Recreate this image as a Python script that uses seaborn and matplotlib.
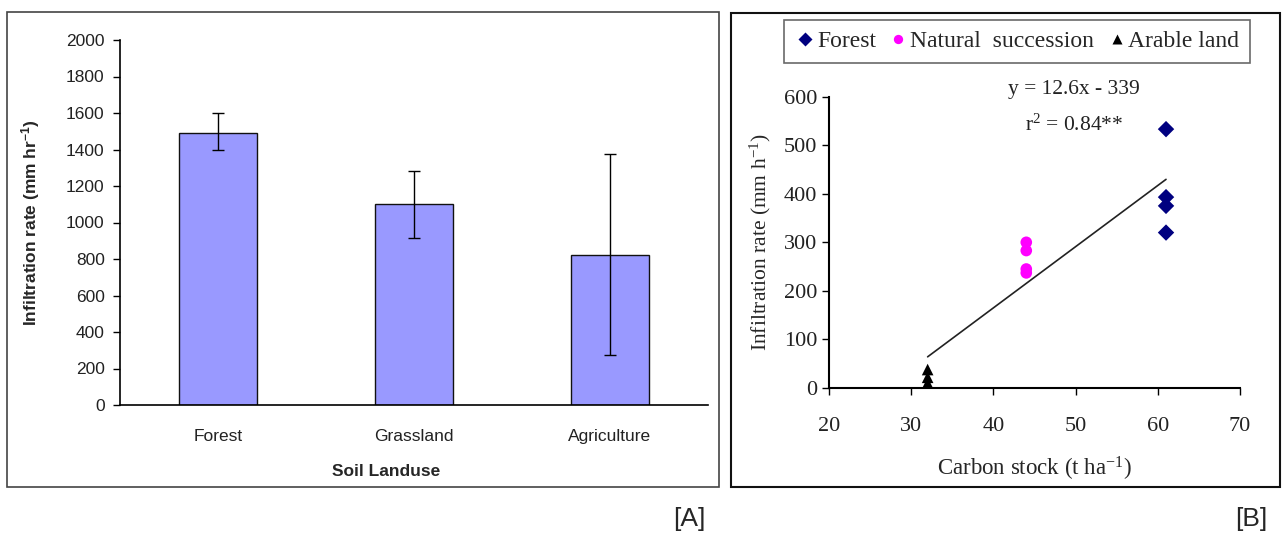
import matplotlib
matplotlib.use("Agg")
import matplotlib.pyplot as plt
from matplotlib.patches import Rectangle
import seaborn as sns
import numpy as np
import pandas as pd

# ---- Data: panel A ----
landuse = ["Forest", "Grassland", "Agriculture"]
infiltration = [1490, 1100, 820]
err_low = [1400, 915, 275]
err_high = [1600, 1280, 1375]

# ---- Data: panel B ----
forest_x = [61, 61, 61, 61]
forest_y = [533, 393, 375, 320]
nat_x = [44, 44, 44, 44]
nat_y = [300, 283, 245, 237]
arable_x = [32, 32, 32, 32]
arable_y = [38, 22, 10, 4]
slope = 12.6
intercept = -339
fit_x = [32, 61]

sns.set_theme(style="white")
plt.rcParams["mathtext.default"] = "regular"

fig = plt.figure(figsize=(12.83, 5.35), dpi=100)

# frames
fig.add_artist(Rectangle((7/1283, 1-487/535), (719-7)/1283, (487-12)/535,
                         transform=fig.transFigure, fill=False, edgecolor="#444444", lw=1.2))
fig.add_artist(Rectangle((731/1283, 1-487/535), (1280-731)/1283, (487-13)/535,
                         transform=fig.transFigure, fill=False, edgecolor="#111111", lw=1.5))

# ---------- Panel A ----------
axA = fig.add_axes([120/1283, 1-405/535, 588/1283, 365/535])
dfA = pd.DataFrame({"landuse": landuse, "val": infiltration})
sns.barplot(data=dfA, x="landuse", y="val", ax=axA, color="#9999FF",
            edgecolor="#111111", linewidth=1.0, width=0.4, saturation=1)
yerr = [np.array(infiltration) - np.array(err_low), np.array(err_high) - np.array(infiltration)]
axA.errorbar(range(len(landuse)), infiltration, yerr=yerr, fmt="none",
             ecolor="black", elinewidth=1.0, capsize=4, capthick=1.0)
axA.set_xlim(-0.5, 2.5)
axA.set_ylim(0, 2000)
axA.set_yticks(range(0, 2001, 200))
axA.set_xticks([-0.5, 0.5, 1.5, 2.5], minor=True)
axA.tick_params(axis="x", which="major", length=0, pad=17)
axA.tick_params(axis="x", which="minor", length=5, width=1, direction="out", color="black")
axA.tick_params(axis="y", length=5, width=1, direction="out", color="black", left=True, pad=6)
for s in ["top", "right"]:
    axA.spines[s].set_visible(False)
for s in ["left", "bottom"]:
    axA.spines[s].set_color("black")
    axA.spines[s].set_linewidth(1.2)
for lab in axA.get_xticklabels() + axA.get_yticklabels():
    lab.set_fontfamily("Liberation Sans")
    lab.set_fontsize(12.5)
    lab.set_color("#222222")
axA.set_xlabel("Soil Landuse", fontfamily="Liberation Sans", fontsize=12.5,
               fontweight="bold")
axA.xaxis.set_label_coords((386-120)/588, -(464-405)/365)
axA.set_ylabel("Infiltration rate (mm hr$^{-1}$)", fontfamily="Liberation Sans",
               fontsize=12.5, fontweight="bold")
axA.yaxis.set_label_coords(-(120-42)/588, 0.5)

# ---------- Panel B ----------
axB = fig.add_axes([829/1283, 1-388/535, 411/1283, 291.4/535])
dfB = pd.DataFrame({
    "x": forest_x + nat_x + arable_x,
    "y": forest_y + nat_y + arable_y,
    "group": ["Forest"] * len(forest_x) + ["Natural  succession"] * len(nat_x) + ["Arable land"] * len(arable_x),
})
palette = {"Forest": "#000080", "Natural  succession": "#FF00FF", "Arable land": "#000000"}
markers = {"Forest": "D", "Natural  succession": "o", "Arable land": "^"}
sns.scatterplot(data=dfB, x="x", y="y", hue="group", style="group", palette=palette,
                markers=markers, s=70, edgecolor="none", ax=axB, legend=True, zorder=3)
fx = np.array(fit_x, dtype=float)
axB.plot(fx, slope * fx + intercept, color="#222222", lw=1.2, zorder=2)
axB.set_xlim(20, 70)
axB.set_ylim(0, 600)
axB.set_xticks(range(20, 71, 10))
axB.set_yticks(range(0, 601, 100))
axB.tick_params(axis="both", length=5, width=1, direction="out", color="black",
                left=True, bottom=True, labelsize=16)
axB.tick_params(axis="x", pad=16)
for s in ["top", "right"]:
    axB.spines[s].set_visible(False)
for s in ["left", "bottom"]:
    axB.spines[s].set_color("black")
    axB.spines[s].set_linewidth(1.5)
for lab in axB.get_xticklabels() + axB.get_yticklabels():
    lab.set_fontfamily("Liberation Serif")
    lab.set_color("#222222")
axB.set_xlabel("Carbon stock (t ha$^{-1}$)", fontfamily="Liberation Serif", fontsize=16.5)
axB.xaxis.set_label_coords(0.5, -(455-388)/291.4)
axB.set_ylabel("Infiltration rate (mm h$^{-1}$)", fontfamily="Liberation Serif", fontsize=15.5)
axB.yaxis.set_label_coords(-(829-773)/411, 0.5)
axB.text(49.8, 614, "y = 12.6x - 339", ha="center", va="center",
         fontfamily="Liberation Serif", fontsize=15.5, color="#222222")
axB.text(49.8, 542, "r$^{2}$ = 0.84**", ha="center", va="center",
         fontfamily="Liberation Serif", fontsize=15.5, color="#222222")

leg = axB.legend(loc="upper left", ncol=3, frameon=True, fancybox=False,
                 handletextpad=0.05, columnspacing=0.5, borderpad=0.45,
                 borderaxespad=0, handlelength=0.9, markerscale=0.8,
                 prop={"family": "Liberation Serif", "size": 17})
leg.get_frame().set_edgecolor("#444444")
leg.get_frame().set_linewidth(1.2)
leg.set_bbox_to_anchor(((784-829)/411, (388-20)/291.4), transform=axB.transAxes)

# panel labels
fig.text(689/1283, 1-519/535, "[A]", ha="center", va="center",
         fontfamily="Liberation Sans", fontsize=19)
fig.text(1251/1283, 1-519/535, "[B]", ha="center", va="center",
         fontfamily="Liberation Sans", fontsize=19)

fig.savefig("out.png", dpi=100)
